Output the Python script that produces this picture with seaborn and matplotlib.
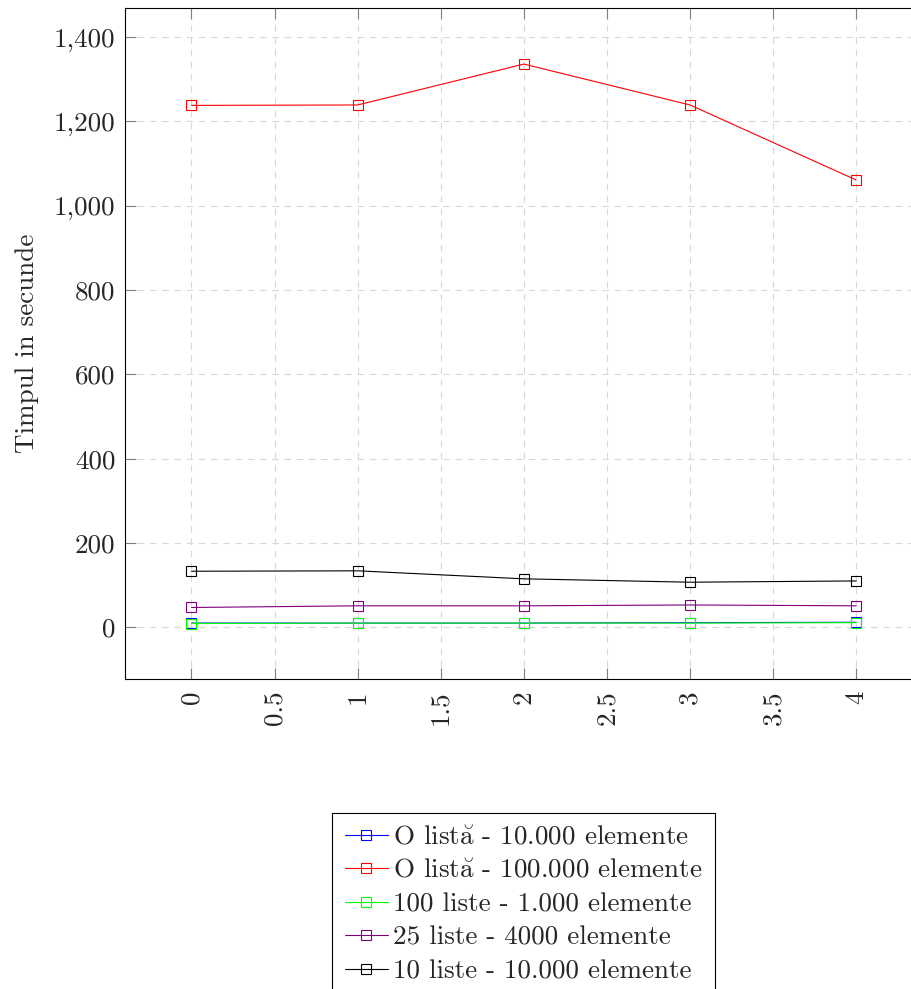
import matplotlib
matplotlib.use("Agg")
import matplotlib.pyplot as plt
from matplotlib.ticker import FixedLocator, FuncFormatter
import seaborn as sns
import pandas as pd

# Measurement runs and timings (seconds)
runs = [0, 1, 2, 3, 4]
series_names = [
    r"O list$\breve{\mathrm{a}}$ - 10.000 elemente",
    r"O list$\breve{\mathrm{a}}$ - 100.000 elemente",
    "100 liste - 1.000 elemente",
    "25 liste - 4000 elemente",
    "10 liste - 10.000 elemente",
]
one_list_10k = [10, 10, 10, 11, 12]
one_list_100k = [1238, 1239, 1336, 1239, 1061]
lists_100_1k = [9, 10, 10, 10, 11]
lists_25_4k = [47, 51, 51, 53, 51]
lists_10_10k = [133, 134, 115, 107, 110]
series_values = [one_list_10k, one_list_100k, lists_100_1k, lists_25_4k, lists_10_10k]
series_colors = ["#0000ff", "#ff0000", "#00ff00", "#800080", "#000000"]

y_ticks = [0, 200, 400, 600, 800, 1000, 1200, 1400]
x_ticks = [0, 0.5, 1, 1.5, 2, 2.5, 3, 3.5, 4]

FS = 19.5

sns.set_theme(style="white")
plt.rcParams["font.family"] = ["cmr10", "DejaVu Serif"]
plt.rcParams["axes.unicode_minus"] = False
plt.rcParams["mathtext.fontset"] = "cm"

fig = plt.figure(figsize=(9.12, 9.89), dpi=100)
ax = fig.add_axes([125 / 912, 1 - 679 / 989, (922.6 - 125) / 912, 671 / 989])

frames = []
for name, vals in zip(series_names, series_values):
    frames.append(pd.DataFrame({"run": runs, "time": vals, "series": name}))
df = pd.concat(frames, ignore_index=True)

for name, color in zip(series_names, series_colors):
    sub = df[df["series"] == name]
    sns.lineplot(
        data=sub, x="run", y="time", ax=ax, color=color, linewidth=0.8,
        marker="s", markersize=7.5, markerfacecolor="none",
        markeredgecolor=color, markeredgewidth=0.8, label=name,
        estimator=None, errorbar=None,
    )

ax.set_xlim(-0.4, 4.4)
ax.set_ylim(-122.6, 1469)

ax.xaxis.set_major_locator(FixedLocator(x_ticks))
ax.yaxis.set_major_locator(FixedLocator(y_ticks))
ax.xaxis.set_major_formatter(FuncFormatter(lambda v, p: f"{v:g}"))
ax.yaxis.set_major_formatter(FuncFormatter(lambda v, p: f"{int(v):,}"))

ax.grid(True, color="#d8d8d8", linewidth=0.8, linestyle=(0, (6, 5)))
ax.set_axisbelow(True)

ax.tick_params(axis="both", which="major", direction="in", length=8,
               width=0.8, color="#808080", labelsize=FS, bottom=True, left=True,
               top=True, right=False)
ax.tick_params(axis="x", pad=8, labelrotation=90)
ax.tick_params(axis="y", pad=7)

for side in ["left", "bottom", "top"]:
    ax.spines[side].set_visible(True)
    ax.spines[side].set_color("black")
    ax.spines[side].set_linewidth(0.8)
ax.spines["right"].set_visible(False)

ax.set_xlabel("")
ax.set_ylabel("Timpul in secunde", fontsize=FS)
ax.yaxis.set_label_coords(-0.108, 0.5)

leg = ax.legend(
    loc="upper center", bbox_to_anchor=(0.5, -0.2), fontsize=FS,
    frameon=True, fancybox=False, framealpha=1, edgecolor="black",
    handlelength=1.6, handletextpad=0.2, labelspacing=0.35,
    borderpad=0.45, borderaxespad=0,
)
leg.get_frame().set_linewidth(0.8)

fig.savefig("out.png", dpi=100)
